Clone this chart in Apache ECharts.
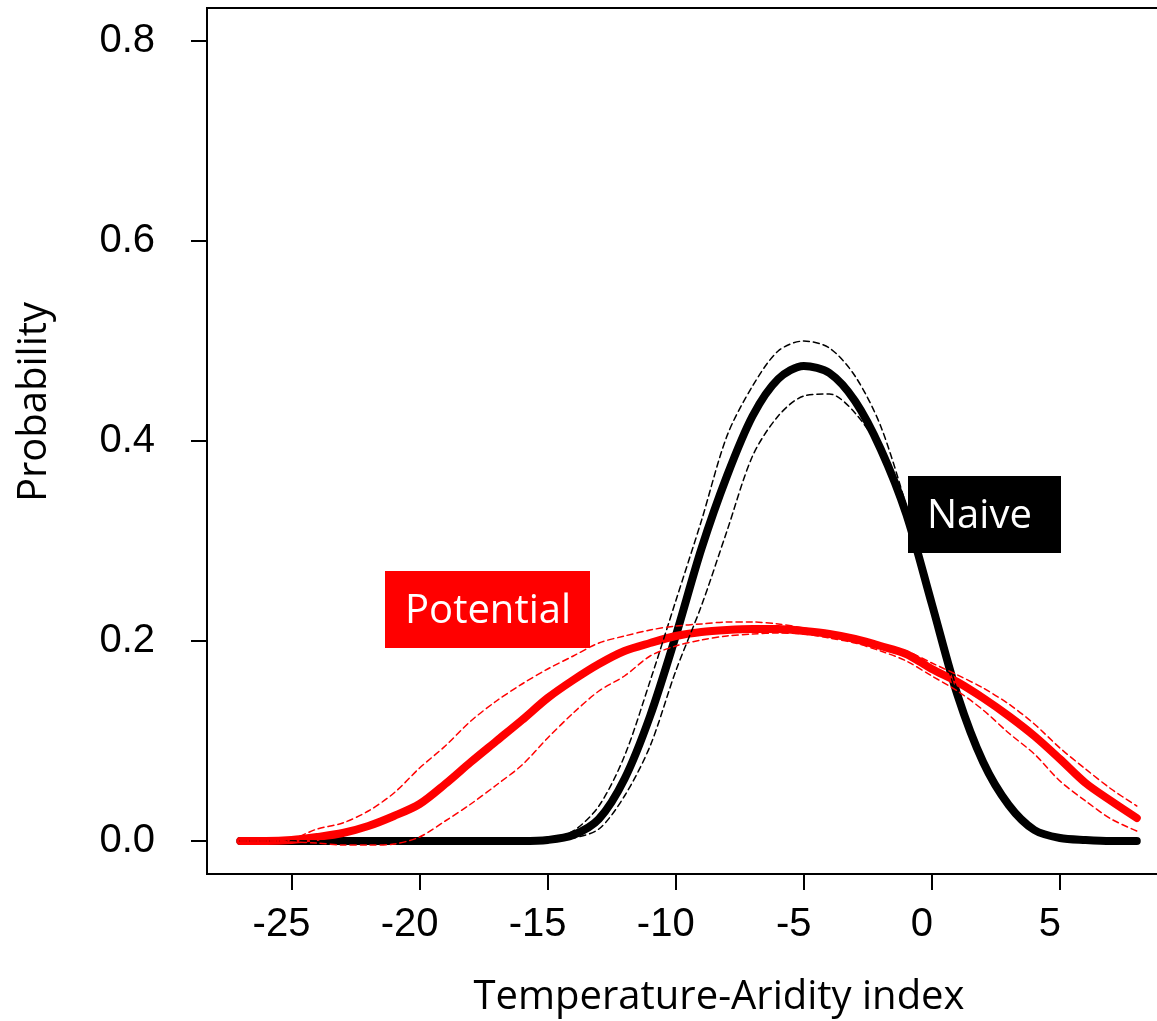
<!DOCTYPE html>
<html><head><meta charset="utf-8">
<script src="https://cdn.jsdelivr.net/npm/echarts@6/dist/echarts.min.js"></script>
<style>html,body{margin:0;padding:0;background:#fff}#c{width:1157px;height:1021px}</style>
</head><body><div id="c"></div>
<script>
var xs = [-27,-26,-25,-24,-23,-22,-21,-20,-19,-18,-17,-16,-15,-14,-13,-12,-11,-10,-9,-8,-7,-6,-5,-4,-3,-2,-1,0,1,2,3,4,5,6,7,8];
var naive = [0,0,0,0,0,0,0,0,0,0,0,0,0.001,0.006,0.022,0.062,0.125,0.205,0.292,0.365,0.425,0.462,0.475,0.468,0.44,0.392,0.327,0.237,0.146,0.079,0.036,0.011,0.003,0.001,0,0];
var naiveUpper = [0,0,0,0,0,0,0,0,0,0,0,0,0.002,0.01,0.035,0.085,0.16,0.24,0.32,0.405,0.455,0.49,0.5,0.493,0.465,0.415,0.335,0.24,0.15,0.08,0.037,0.012,0.003,0.001,0,0];
var naiveLower = [0,0,0,0,0,0,0,0,0,0,0,0,0,0.003,0.012,0.045,0.095,0.17,0.235,0.31,0.385,0.425,0.445,0.447,0.428,0.39,0.325,0.232,0.143,0.078,0.035,0.011,0.003,0.001,0,0];
var potential = [0,0,0.001,0.004,0.008,0.015,0.025,0.037,0.057,0.079,0.1,0.121,0.143,0.161,0.177,0.19,0.198,0.205,0.209,0.211,0.212,0.212,0.21,0.207,0.202,0.195,0.187,0.172,0.159,0.143,0.125,0.105,0.082,0.058,0.04,0.023];
var potentialUpper = [0,0,0.002,0.012,0.018,0.03,0.048,0.073,0.095,0.12,0.14,0.157,0.172,0.185,0.198,0.205,0.211,0.215,0.217,0.219,0.219,0.217,0.213,0.208,0.203,0.197,0.19,0.178,0.166,0.153,0.137,0.117,0.093,0.072,0.052,0.035];
var potentialLower = [0,0,-0.001,-0.002,-0.004,-0.004,-0.003,0.004,0.02,0.037,0.056,0.076,0.103,0.128,0.15,0.165,0.185,0.195,0.201,0.205,0.207,0.208,0.207,0.203,0.198,0.19,0.18,0.165,0.15,0.131,0.108,0.087,0.06,0.04,0.022,0.01];
var xTicks = [-25,-20,-15,-10,-5,0,5];
var yTicks = [0,0.2,0.4,0.6,0.8];
var xTitle = 'Temperature-Aridity index';
var yTitle = 'Probability';
var labelNaive = 'Naive';
var labelPotential = 'Potential';

function pts(ys){ return xs.map(function(x,i){ return [x, ys[i]]; }); }
function line(name, ys, color, width, dashed){
  return {name:name, type:'line', data:pts(ys), showSymbol:false, symbol:'none', smooth:0.3,
    lineStyle:{color:color, width:width, type: dashed ? [6,4] : 'solid', cap:'round', join:'round'},
    z: dashed ? 3 : 2, animation:false};
}
var chart = echarts.init(document.getElementById('c'), null, {renderer:'canvas'});
chart.setOption({
  animation:false,
  grid:{left:207, top:8, width:981, height:866, show:true, borderColor:'#000', borderWidth:2,
    backgroundColor:'transparent', containLabel:false, outerBoundsMode:'none'},
  xAxis:{type:'value', min:-28.3, max:10,
    axisLine:{show:true, onZero:false, lineStyle:{color:'#000', width:2}},
    axisTick:{show:true, length:16, lineStyle:{color:'#000', width:2}, customValues:xTicks},
    axisLabel:{color:'#000', fontSize:40, fontFamily:'Liberation Sans', margin:31, padding:[0,20,0,0], customValues:xTicks},
    splitLine:{show:false}},
  yAxis:{type:'value', min:-0.033, max:0.833,
    axisLine:{show:true, onZero:false, lineStyle:{color:'#000', width:2}},
    axisTick:{show:true, length:16, lineStyle:{color:'#000', width:2}, customValues:yTicks},
    axisLabel:{color:'#000', fontSize:40, fontFamily:'Liberation Sans', margin:52, customValues:yTicks,
      formatter:function(v){return v.toFixed(1);}},
    splitLine:{show:false}},
  series:[
    line('Naive', naive, '#000', 8, false),
    line('Naive upper', naiveUpper, '#000', 1.5, true),
    line('Naive lower', naiveLower, '#000', 1.5, true),
    line('Potential', potential, '#ff0000', 8, false),
    line('Potential upper', potentialUpper, '#ff0000', 1.5, true),
    line('Potential lower', potentialLower, '#ff0000', 1.5, true)
  ],
  graphic:[
    {type:'text', x:719, y:998, style:{text:xTitle, fill:'#000', fontSize:40, fontFamily:'Open Sans', align:'center', verticalAlign:'middle'}},
    {type:'text', x:35, y:402, rotation:Math.PI/2, style:{text:yTitle, fill:'#000', fontSize:40, fontFamily:'Open Sans', align:'center', verticalAlign:'middle'}},
    {type:'rect', x:385, y:571, shape:{width:205, height:77}, style:{fill:'#ff0000'}, z:10},
    {type:'text', x:405, y:612, style:{text:labelPotential, fill:'#fff', fontSize:40, fontFamily:'Open Sans', verticalAlign:'middle'}, z:11},
    {type:'rect', x:908, y:476, shape:{width:153, height:77}, style:{fill:'#000'}, z:10},
    {type:'text', x:927, y:517, style:{text:labelNaive, fill:'#fff', fontSize:40, fontFamily:'Open Sans', verticalAlign:'middle'}, z:11}
  ]
});
</script></body></html>
